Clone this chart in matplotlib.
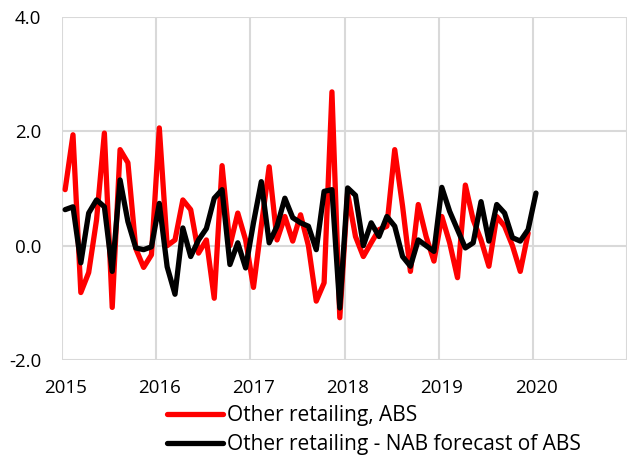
import matplotlib
matplotlib.use("Agg")
import matplotlib.pyplot as plt
import numpy as np

plt.rcParams['font.family'] = ['Open Sans', 'DejaVu Sans']

# monthly, from Jan 2015
abs_actual = [0.98, 1.94, -0.82, -0.47, 0.45, 1.97, -1.08, 1.68, 1.45, -0.05,
              -0.38, -0.16, 2.06, 0.00, 0.10, 0.80, 0.63, -0.13, 0.10, -0.92,
              1.40, 0.00, 0.57, 0.10, -0.73, 0.35, 1.38, 0.10, 0.51, 0.08,
              0.54, 0.00, -0.97, -0.65, 2.69, -1.26, 0.92, 0.16, -0.19, 0.05,
              0.28, 0.34, 1.68, 0.69, -0.45, 0.72, 0.16, -0.27, 0.51, 0.05,
              -0.56, 1.06, 0.45, 0.10, -0.36, 0.51, 0.34, 0.00, -0.45, 0.22]
nab_forecast = [0.63, 0.68, -0.30, 0.57, 0.80, 0.68, -0.45, 1.15, 0.42, -0.04,
                -0.07, -0.02, 0.74, -0.37, -0.85, 0.31, -0.19, 0.10, 0.30, 0.83,
                0.98, -0.33, 0.05, -0.39, 0.40, 1.12, 0.05, 0.34, 0.83, 0.49,
                0.40, 0.34, -0.07, 0.95, 0.98, -1.09, 1.01, 0.88, 0.00, 0.40,
                0.16, 0.51, 0.34, -0.19, -0.36, 0.10, 0.00, -0.10, 1.02, 0.60,
                0.28, -0.04, 0.05, 0.77, 0.08, 0.72, 0.57, 0.14, 0.08, 0.28,
                0.92]
years = [2015, 2016, 2017, 2018, 2019, 2020]
y_ticks = [-2.0, 0.0, 2.0, 4.0]
labels = ["Other retailing, ABS", "Other retailing - NAB forecast of ABS"]

x_abs = 2015 + (np.arange(len(abs_actual)) + 0.4) / 12
x_nab = 2015 + (np.arange(len(nab_forecast)) + 0.4) / 12

fig = plt.figure(figsize=(6.27, 4.58), dpi=100)
ax = fig.add_axes([62 / 627, 1 - 360 / 458, 1 - 62 / 627, 343 / 458])

l1, = ax.plot(x_abs, abs_actual, color='#ff0000', lw=3.8,
              solid_joinstyle='round', solid_capstyle='round')
l2, = ax.plot(x_nab, nab_forecast, color='black', lw=3.8,
              solid_joinstyle='round', solid_capstyle='round')

ax.set_xlim(2015, 2021)
ax.set_ylim(-2, 4)
ax.set_yticks(y_ticks)
ax.set_yticklabels(['%.1f' % v for v in y_ticks])
ax.set_xticks(years + [2021])
ax.set_xticklabels([])
ax.set_xticks([y + 0.035 for y in years], minor=True)
ax.set_xticklabels([str(y) for y in years], minor=True)
ax.tick_params(axis='both', which='both', length=0, labelsize=13.5, colors='black')
ax.tick_params(axis='y', pad=15)
ax.tick_params(axis='x', which='minor', pad=14)
ax.grid(True, which='major', color='#d9d9d9', lw=1.5)
for s in ax.spines.values():
    s.set_visible(False)

fig.legend([l1, l2], labels, loc='upper left', bbox_to_anchor=(167 / 627, 1 - 405 / 458),
           frameon=False, fontsize=15, handlelength=2.7, handletextpad=0.2,
           labelspacing=0.4, borderpad=0, borderaxespad=0)

fig.savefig('out.png', dpi=100)
